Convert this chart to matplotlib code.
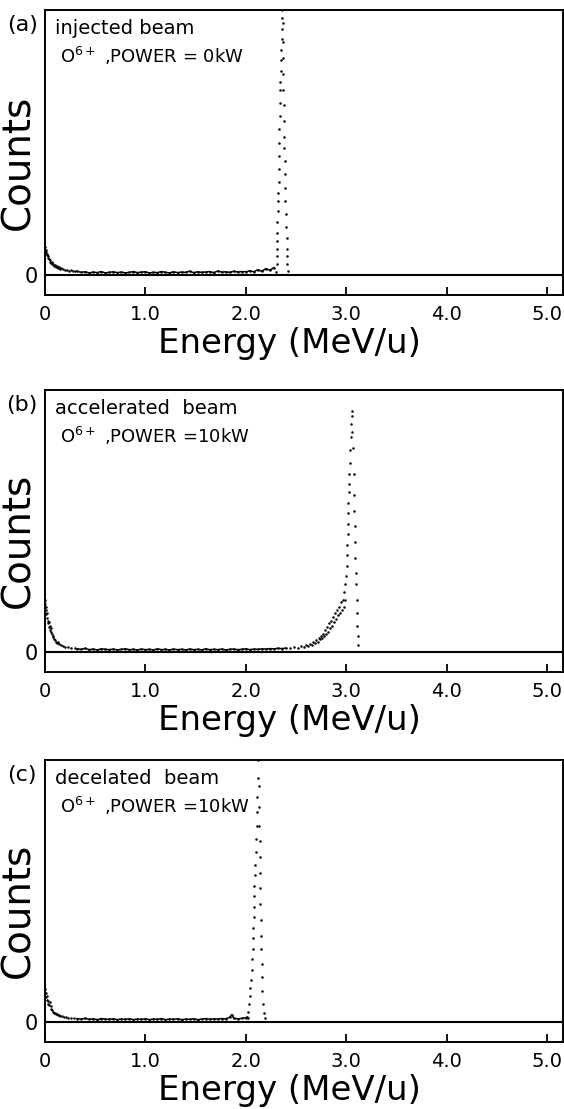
import matplotlib

matplotlib.use("Agg")

from matplotlib import pyplot as plt

# ---- panel (a): injected beam, 0 kW ----
a_tail_e = [0.00, 0.005, 0.01, 0.015, 0.02, 0.025, 0.03, 0.04, 0.045, 0.05, 0.06, 0.065, 0.07, 0.08, 0.09,
            0.10, 0.11, 0.12, 0.13, 0.14, 0.15, 0.16, 0.18, 0.20, 0.22, 0.24, 0.26, 0.28, 0.30]
a_tail_c = [0.105, 0.095, 0.085, 0.075, 0.080, 0.065, 0.070, 0.060, 0.050, 0.055, 0.045, 0.050, 0.040, 0.042, 0.035,
            0.038, 0.030, 0.033, 0.026, 0.030, 0.024, 0.027, 0.022, 0.020, 0.018, 0.016, 0.019, 0.014, 0.015]
a_base_e = [0.32, 0.36, 0.40, 0.44, 0.48, 0.52, 0.56, 0.60, 0.64, 0.68, 0.72, 0.76, 0.80, 0.84, 0.88, 0.92,
            0.96, 1.00, 1.04, 1.08, 1.12, 1.16, 1.20, 1.24, 1.28, 1.32, 1.36, 1.40, 1.44, 1.48, 1.52, 1.56,
            1.60, 1.64, 1.68, 1.72, 1.76, 1.80, 1.84, 1.88, 1.92, 1.96, 2.00, 2.04, 2.08, 2.12, 2.16, 2.20,
            2.24, 2.28]
a_base_c = [0.014, 0.010, 0.012, 0.008, 0.011, 0.009, 0.013, 0.008, 0.010, 0.012, 0.009, 0.011, 0.008, 0.010,
            0.013, 0.009, 0.011, 0.012, 0.008, 0.010, 0.009, 0.013, 0.010, 0.008, 0.012, 0.009, 0.011, 0.010,
            0.014, 0.009, 0.012, 0.010, 0.011, 0.013, 0.009, 0.015, 0.011, 0.012, 0.010, 0.014, 0.011, 0.013,
            0.012, 0.016, 0.012, 0.020, 0.014, 0.024, 0.018, 0.028]
a_peak_e = [2.300, 2.308, 2.310, 2.312, 2.314, 2.315, 2.316, 2.318, 2.320,
            2.325, 2.328, 2.330, 2.331, 2.333, 2.335, 2.336, 2.338, 2.340,
            2.345, 2.350, 2.352, 2.355, 2.356, 2.358, 2.360, 2.362,
            2.368, 2.370, 2.372, 2.374, 2.375, 2.376, 2.378, 2.380,
            2.385, 2.388, 2.390, 2.392, 2.394, 2.396,
            2.405, 2.408, 2.410, 2.412, 2.414, 2.418]
a_peak_c = [0.010, 0.040, 0.070, 0.100, 0.130, 0.160, 0.200, 0.240, 0.280,
            0.310, 0.350, 0.400, 0.450, 0.500, 0.550, 0.600, 0.650, 0.700,
            0.730, 0.770, 0.810, 0.850, 0.890, 0.930, 0.970, 1.000,
            0.950, 0.880, 0.820, 0.760, 0.700, 0.640, 0.580, 0.520,
            0.480, 0.430, 0.380, 0.330, 0.280, 0.230,
            0.180, 0.140, 0.100, 0.070, 0.040, 0.015]

# ---- panel (b): accelerated beam, 10 kW ----
b_tail_e = [0.00, 0.003, 0.006, 0.01, 0.012, 0.015, 0.02, 0.025, 0.03, 0.035, 0.04, 0.045, 0.05, 0.055, 0.06,
            0.07, 0.075, 0.08, 0.09, 0.10, 0.11, 0.12, 0.13, 0.14, 0.16, 0.18, 0.20, 0.23, 0.26, 0.30]
b_tail_c = [0.200, 0.185, 0.170, 0.160, 0.145, 0.150, 0.130, 0.120, 0.110, 0.115, 0.095, 0.100, 0.085, 0.090, 0.075,
            0.070, 0.062, 0.058, 0.050, 0.046, 0.040, 0.036, 0.040, 0.030, 0.026, 0.024, 0.020, 0.018, 0.016, 0.014]
b_base_e = [0.32, 0.36, 0.40, 0.44, 0.48, 0.52, 0.56, 0.60, 0.64, 0.68, 0.72, 0.76, 0.80, 0.84, 0.88, 0.92,
            0.96, 1.00, 1.04, 1.08, 1.12, 1.16, 1.20, 1.24, 1.28, 1.32, 1.36, 1.40, 1.44, 1.48, 1.52, 1.56,
            1.60, 1.64, 1.68, 1.72, 1.76, 1.80, 1.84, 1.88, 1.92, 1.96, 2.00, 2.04, 2.08, 2.12, 2.16, 2.20,
            2.24, 2.28, 2.32, 2.36, 2.40]
b_base_c = [0.012, 0.010, 0.014, 0.009, 0.011, 0.008, 0.012, 0.010, 0.009, 0.011, 0.008, 0.010, 0.012, 0.009,
            0.010, 0.008, 0.011, 0.009, 0.010, 0.008, 0.012, 0.009, 0.010, 0.008, 0.011, 0.009, 0.010, 0.008,
            0.011, 0.009, 0.010, 0.008, 0.012, 0.009, 0.010, 0.009, 0.011, 0.008, 0.010, 0.011, 0.009, 0.010,
            0.012, 0.009, 0.011, 0.010, 0.012, 0.011, 0.013, 0.012, 0.014, 0.013, 0.015]
b_peak_e = [2.44, 2.48, 2.52, 2.55, 2.58, 2.60, 2.62, 2.64, 2.66, 2.67, 2.69, 2.70, 2.72, 2.73, 2.74, 2.75,
            2.76, 2.77, 2.78, 2.79, 2.80, 2.81, 2.82, 2.83, 2.84, 2.85, 2.86, 2.87, 2.88, 2.89, 2.90, 2.91,
            2.92, 2.93, 2.94, 2.95, 2.96, 2.97, 2.975, 2.98, 2.985, 2.99,
            3.000, 3.005, 3.010, 3.012, 3.015, 3.018, 3.020, 3.022, 3.025, 3.028,
            3.032, 3.036, 3.040, 3.045, 3.050, 3.055, 3.058, 3.062, 3.066,
            3.075, 3.080, 3.083, 3.086, 3.090, 3.093, 3.096,
            3.100, 3.104, 3.108, 3.112, 3.116, 3.120]
b_peak_c = [0.014, 0.018, 0.016, 0.022, 0.020, 0.028, 0.024, 0.032, 0.028, 0.040, 0.034, 0.046, 0.040, 0.055, 0.048, 0.062,
            0.052, 0.070, 0.060, 0.085, 0.068, 0.095, 0.078, 0.110, 0.090, 0.120, 0.100, 0.135, 0.115, 0.150, 0.125, 0.160,
            0.140, 0.170, 0.150, 0.190, 0.160, 0.200, 0.170, 0.230, 0.200, 0.260,
            0.290, 0.330, 0.370, 0.410, 0.450, 0.490, 0.530, 0.570, 0.610, 0.640,
            0.680, 0.720, 0.770, 0.820, 0.870, 0.920, 0.900, 0.840, 0.780,
            0.680, 0.600, 0.540, 0.480, 0.420, 0.360, 0.300,
            0.260, 0.200, 0.150, 0.100, 0.060, 0.025]

# ---- panel (c): decelerated beam, 10 kW ----
c_tail_e = [0.00, 0.005, 0.01, 0.015, 0.02, 0.025, 0.03, 0.04, 0.05, 0.055, 0.06, 0.07, 0.08, 0.09, 0.10,
            0.11, 0.12, 0.13, 0.14, 0.15, 0.17, 0.19, 0.21, 0.23, 0.26, 0.29]
c_tail_c = [0.125, 0.110, 0.095, 0.100, 0.085, 0.080, 0.070, 0.065, 0.075, 0.060, 0.050, 0.045, 0.040, 0.036, 0.034,
            0.030, 0.032, 0.028, 0.026, 0.024, 0.022, 0.020, 0.018, 0.017, 0.015, 0.014]
c_base_e = [0.32, 0.36, 0.40, 0.44, 0.48, 0.52, 0.56, 0.60, 0.64, 0.68, 0.72, 0.76, 0.80, 0.84, 0.88, 0.92,
            0.96, 1.00, 1.04, 1.08, 1.12, 1.16, 1.20, 1.24, 1.28, 1.32, 1.36, 1.40, 1.44, 1.48, 1.52, 1.56,
            1.60, 1.64, 1.68, 1.72, 1.76, 1.80, 1.84, 1.86, 1.88, 1.92, 1.96, 2.00, 2.01]
c_base_c = [0.013, 0.011, 0.014, 0.010, 0.012, 0.009, 0.013, 0.011, 0.010, 0.012, 0.009, 0.011, 0.010, 0.012,
            0.009, 0.011, 0.010, 0.012, 0.009, 0.011, 0.010, 0.013, 0.009, 0.011, 0.010, 0.012, 0.009, 0.011,
            0.010, 0.012, 0.009, 0.011, 0.013, 0.010, 0.012, 0.011, 0.013, 0.012, 0.018, 0.028, 0.014, 0.012,
            0.014, 0.016, 0.018]
c_peak_e = [2.020, 2.024, 2.028, 2.040, 2.045, 2.050, 2.060, 2.064, 2.068, 2.072,
            2.076, 2.078, 2.080, 2.082, 2.084, 2.090, 2.094, 2.098, 2.102, 2.108,
            2.112, 2.116, 2.120, 2.124,
            2.128, 2.132, 2.136, 2.138, 2.140, 2.142, 2.144, 2.146,
            2.150, 2.152, 2.154, 2.158, 2.162, 2.166, 2.172, 2.180, 2.190]
c_peak_c = [0.015, 0.040, 0.070, 0.100, 0.130, 0.160, 0.200, 0.240, 0.280, 0.320,
            0.360, 0.400, 0.440, 0.480, 0.520, 0.560, 0.600, 0.650, 0.700, 0.750,
            0.800, 0.860, 0.930, 1.000,
            0.900, 0.820, 0.750, 0.690, 0.630, 0.570, 0.510, 0.450,
            0.390, 0.330, 0.280, 0.220, 0.170, 0.120, 0.070, 0.035, 0.015]

xtick_vals = [0, 1, 2, 3, 4, 5]
xtick_labels = ["0", "1.0", "2.0", "3.0", "4.0", "5.0"]

panels = [
    ("(a)", "injected beam", "O$^{6+}$ ,POWER = 0kW",
     a_tail_e + a_base_e + a_peak_e, a_tail_c + a_base_c + a_peak_c, a_base_e, a_base_c),
    ("(b)", "accelerated  beam", "O$^{6+}$ ,POWER =10kW",
     b_tail_e + b_base_e + b_peak_e, b_tail_c + b_base_c + b_peak_c, b_base_e, b_base_c),
    ("(c)", "decelated  beam", "O$^{6+}$ ,POWER =10kW",
     c_tail_e + c_base_e + c_peak_e, c_tail_c + c_base_c + c_peak_c, c_base_e, c_base_c),
]

W, H = 564, 1109
fig = plt.figure(figsize=(W / 100, H / 100), dpi=100)
plt.rcParams["font.family"] = ["DejaVu Sans"]

boxes = [(10, 295), (390, 672), (760, 1042)]  # top, bottom in px
left_px, right_px = 45, 563

for (tag, line1, line2, ev, cv, be, bc), (top, bot) in zip(panels, boxes):
    ax = fig.add_axes([left_px / W, 1 - bot / H, (right_px - left_px) / W, (bot - top) / H])
    span = bot - top
    ax.set_xlim(0, 5.16)
    ax.set_ylim(-20 / (span - 20), 1.0)

    ax.axhline(0, color="black", lw=1.5, zorder=2)
    ax.plot(be, bc, color="black", lw=1.1, zorder=3)
    ax.plot(ev, cv, ls="none", marker="o", ms=1.8, mew=0, color="black", zorder=4)

    for s in ax.spines.values():
        s.set_linewidth(1.4)
    ax.set_xticks(xtick_vals, xtick_labels)
    ax.set_yticks([0], ["0"])
    ax.tick_params(axis="x", direction="in", length=6, width=1.3, pad=7, labelsize=14)
    ax.tick_params(axis="y", length=0, pad=5, labelsize=15)

    ax.annotate(tag, xy=(0, 1), xycoords="axes fraction", xytext=(-16.5, -10.8),
                textcoords="offset points", ha="center", va="center", fontsize=16)
    ax.annotate(line1, xy=(0, 1), xycoords="axes fraction", xytext=(7.5, -17.5),
                textcoords="offset points", ha="left", va="baseline", fontsize=14)
    ax.annotate(line2, xy=(0, 1), xycoords="axes fraction", xytext=(10.5, -38.2),
                textcoords="offset points", ha="left", va="baseline", fontsize=13)
    ax.annotate("Counts", xy=(0, 0.466), xycoords="axes fraction", xytext=(-19.5, 0),
                textcoords="offset points", ha="center", va="center", rotation=90, fontsize=28)
    ax.annotate("Energy (MeV/u)", xy=(0.471, 0), xycoords="axes fraction", xytext=(0, -41.8),
                textcoords="offset points", ha="center", va="baseline", fontsize=24.5)

fig.savefig("out.png", dpi=100)
